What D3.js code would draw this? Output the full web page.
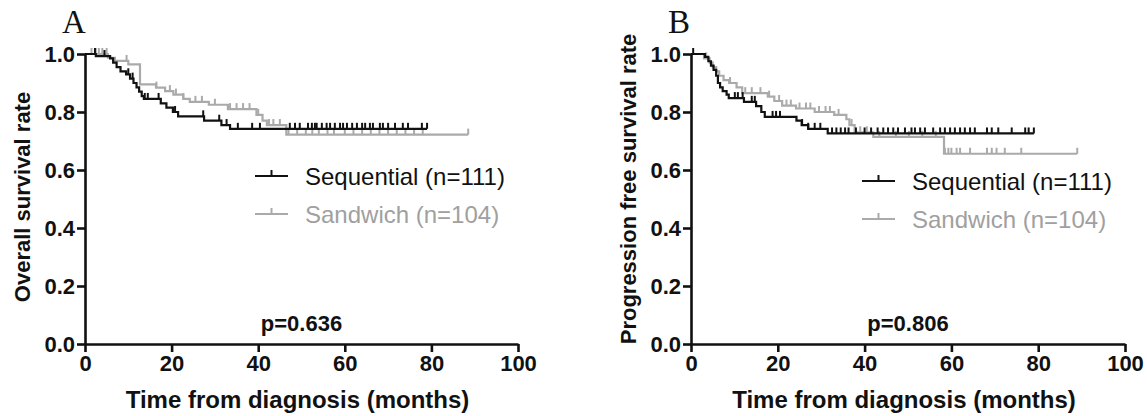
<!DOCTYPE html>
<html><head><meta charset="utf-8">
<script src="https://cdn.jsdelivr.net/npm/d3@7"></script>
<style>body{margin:0;background:#fff;} svg{display:block;font-family:Arial,"Liberation Sans",sans-serif;}</style>
</head><body>
<svg id="chart" width="1147" height="416"></svg>
<script>
// ---------- data ----------
const xTicks = [0, 20, 40, 60, 80, 100];
const yTicks = [0.0, 0.2, 0.4, 0.6, 0.8, 1.0];
const seriesNames = ["Sequential (n=111)", "Sandwich (n=104)"];
const panelLetters = ["A", "B"];
const yTitles = ["Overall survival rate", "Progression free survival rate"];
const xTitle = "Time from diagnosis (months)";
const pValues = ["p=0.636", "p=0.806"];

// Panel A – overall survival (step changes: time, survival)
const osSeqTimes = [0, 2.5, 5.8, 6.5, 7.3, 8.2, 9.5, 10.4, 11.2, 11.9, 12.5, 13.1, 13.6, 17.5, 18.8, 20.3, 21.5, 27.5, 31.5, 33.5];
const osSeqSurv  = [1.0, 0.993, 0.985, 0.97, 0.955, 0.94, 0.93, 0.915, 0.9, 0.885, 0.87, 0.855, 0.845, 0.83, 0.815, 0.80, 0.785, 0.77, 0.755, 0.742];
const osSeqEnd = 79;
const osSeqCensor = [2.3, 4.5, 10, 11, 13.8, 14.5, 17, 20.8, 27.3, 31, 32.7, 35.3, 38.6, 40.4, 47.3, 48.5, 49.6, 51.5, 52.4, 53.1, 53.5, 54.7, 55.8, 56.6, 57.7, 58.9, 59.6, 60.5, 61.7, 62.8, 64, 64.7, 65.8, 66.5, 68.1, 68.8, 70, 71.6, 73.4, 74.6, 77.8, 79];

const osSanTimes = [0, 5.3, 6.9, 10, 12.7, 16.4, 18.5, 20.4, 22.7, 24.2, 28.6, 33, 39.6, 41, 42, 46.5];
const osSanSurv  = [1.0, 0.987, 0.976, 0.964, 0.895, 0.884, 0.872, 0.86, 0.845, 0.835, 0.825, 0.81, 0.79, 0.77, 0.755, 0.722];
const osSanEnd = 88.5;
const osSanCensor = [1.5, 2.5, 3.2, 4, 5, 9.6, 16.5, 19.6, 21, 22.7, 25.5, 27, 30, 33.5, 35, 36.5, 38, 40, 42.5, 43.5, 45, 47, 49, 51, 52.5, 54, 56, 57.5, 60, 62, 64, 66, 68, 70, 72, 74, 76, 78, 88.5];

// Panel B – progression free survival
const pfsSeqTimes = [0, 3.2, 4, 4.6, 5.2, 5.8, 6.2, 6.7, 7.3, 8.2, 8.7, 12.2, 15, 16.2, 17, 24.3, 25.5, 27, 31.5];
const pfsSeqSurv  = [1.0, 0.99, 0.975, 0.96, 0.945, 0.925, 0.9, 0.885, 0.872, 0.86, 0.848, 0.835, 0.82, 0.8, 0.783, 0.77, 0.755, 0.742, 0.726];
const pfsSeqEnd = 79;
const pfsSeqCensor = [0.5, 10.1, 10.8, 11.9, 14, 14.7, 18.8, 19.6, 20.5, 25.6, 27, 28.5, 29.8, 32.5, 33.5, 34.5, 35.5, 36.3, 38, 40, 41.5, 43, 44.3, 45.4, 46.6, 47.7, 49.3, 50.8, 51.6, 52.8, 53.9, 55.8, 57.4, 58.5, 59.7, 60.8, 62, 63.1, 64.3, 65.4, 68.2, 69.3, 70.8, 73.9, 77, 77.8, 79];

const pfsSanTimes = [0, 3, 4.3, 5, 5.8, 6.5, 7.5, 8.8, 10.5, 11.8, 17.7, 19.2, 21, 24.2, 28.5, 33, 35.8, 36.5, 37.7, 42, 58.3];
const pfsSanSurv  = [1.0, 0.985, 0.97, 0.955, 0.94, 0.925, 0.91, 0.9, 0.885, 0.865, 0.853, 0.838, 0.822, 0.812, 0.80, 0.79, 0.775, 0.755, 0.73, 0.714, 0.656];
const pfsSanEnd = 89;
const pfsSanCensor = [3.5, 9, 12.5, 14, 16, 18, 20.3, 22, 23, 25, 26.5, 27.5, 29.5, 31, 32, 34, 37, 39, 40.5, 43.4, 47.2, 50.2, 53.3, 56.4, 58.5, 59.3, 60, 61.2, 62, 64.3, 68.2, 69.3, 70.4, 72.3, 76.1, 89];

// ---------- drawing ----------
const svg = d3.select("#chart");
const colors = ["#111111", "#aaaaaa"];
const textColors = ["#111111", "#a0a0a0"];

const panels = [
  { x0: 85, x1: 518, legendX: 255, legendY: 176, yTitleX: 22, yTitleY: 197,
    series: [
      {times: osSeqTimes, surv: osSeqSurv, end: osSeqEnd, censor: osSeqCensor},
      {times: osSanTimes, surv: osSanSurv, end: osSanEnd, censor: osSanCensor}] },
  { x0: 691, x1: 1125, legendX: 862, legendY: 181, yTitleX: 628, yTitleY: 189,
    series: [
      {times: pfsSeqTimes, surv: pfsSeqSurv, end: pfsSeqEnd, censor: pfsSeqCensor},
      {times: pfsSanTimes, surv: pfsSanSurv, end: pfsSanEnd, censor: pfsSanCensor}] }
];
const yTop = 54, yBot = 344;

panels.forEach((p, pi) => {
  const x = d3.scaleLinear().domain([0, 100]).range([p.x0, p.x1]);
  const y = d3.scaleLinear().domain([0, 1]).range([yBot, yTop]);
  const g = svg.append("g");

  // curves (sandwich drawn first, sequential on top)
  [1, 0].forEach(si => {
    const s = p.series[si];
    const pts = s.times.map((t, i) => [t, s.surv[i]]);
    pts.push([s.end, s.surv[s.surv.length - 1]]);
    const line = d3.line().x(d => x(d[0])).y(d => y(d[1])).curve(d3.curveStepAfter);
    g.append("path").attr("d", line(pts)).attr("fill", "none")
      .attr("stroke", colors[si]).attr("stroke-width", 2.2);
    const survAt = t => { let v = s.surv[0]; s.times.forEach((tt, i) => { if (tt <= t) v = s.surv[i]; }); return v; };
    g.selectAll(null).data(s.censor).enter().append("line")
      .attr("x1", d => x(d)).attr("x2", d => x(d))
      .attr("y1", d => y(survAt(d))).attr("y2", d => y(survAt(d)) - 6)
      .attr("stroke", colors[si]).attr("stroke-width", 2);
  });

  // axes
  const xAxis = d3.axisBottom(x).tickValues(xTicks).tickSize(8).tickSizeOuter(0).tickPadding(3).tickFormat(d3.format("d"));
  const yAxis = d3.axisLeft(y).tickValues(yTicks).tickSize(8).tickSizeOuter(0).tickPadding(2).tickFormat(d3.format(".1f"));
  const gx = g.append("g").attr("transform", `translate(0,${yBot})`).call(xAxis);
  const gy = g.append("g").attr("transform", `translate(${p.x0},0)`).call(yAxis);
  [gx, gy].forEach(a => {
    a.selectAll("path,line").attr("stroke", "#111").attr("stroke-width", 2.6);
    a.selectAll("text").attr("fill", "#111").attr("font-size", 22).attr("font-weight", "bold")
      .attr("font-family", "Arial, 'Liberation Sans', sans-serif");
  });
  gy.selectAll("text").attr("dy", "0.36em");

  // titles
  g.append("text").attr("x", (p.x0 + p.x1) / 2 - 4).attr("y", 408).attr("text-anchor", "middle")
    .attr("font-size", 24).attr("font-weight", "bold").attr("fill", "#111").text(xTitle);
  g.append("text").attr("transform", `translate(${p.yTitleX},${p.yTitleY}) rotate(-90)`)
    .attr("text-anchor", "middle").attr("dy", "0.36em")
    .attr("font-size", 22).attr("font-weight", "bold").attr("fill", "#111").text(yTitles[pi]);
  g.append("text").attr("x", p.x0 - 23).attr("y", 33)
    .attr("font-family", "'Liberation Serif','Times New Roman',serif").attr("font-size", 33)
    .attr("fill", "#111").text(panelLetters[pi]);
  g.append("text").attr("x", x(50)).attr("y", 331).attr("text-anchor", "middle")
    .attr("font-size", 22).attr("font-weight", "bold").attr("fill", "#111").text(pValues[pi]);

  // legend
  seriesNames.forEach((name, si) => {
    const ly = p.legendY + si * 38;
    g.append("line").attr("x1", p.legendX).attr("x2", p.legendX + 33).attr("y1", ly).attr("y2", ly)
      .attr("stroke", colors[si]).attr("stroke-width", 2.2);
    g.append("line").attr("x1", p.legendX + 16.5).attr("x2", p.legendX + 16.5).attr("y1", ly).attr("y2", ly - 6)
      .attr("stroke", colors[si]).attr("stroke-width", 2);
    g.append("text").attr("x", p.legendX + 50).attr("y", ly).attr("dy", "0.36em")
      .attr("font-size", 24).attr("fill", textColors[si]).text(name);
  });
});
</script>
</body></html>
